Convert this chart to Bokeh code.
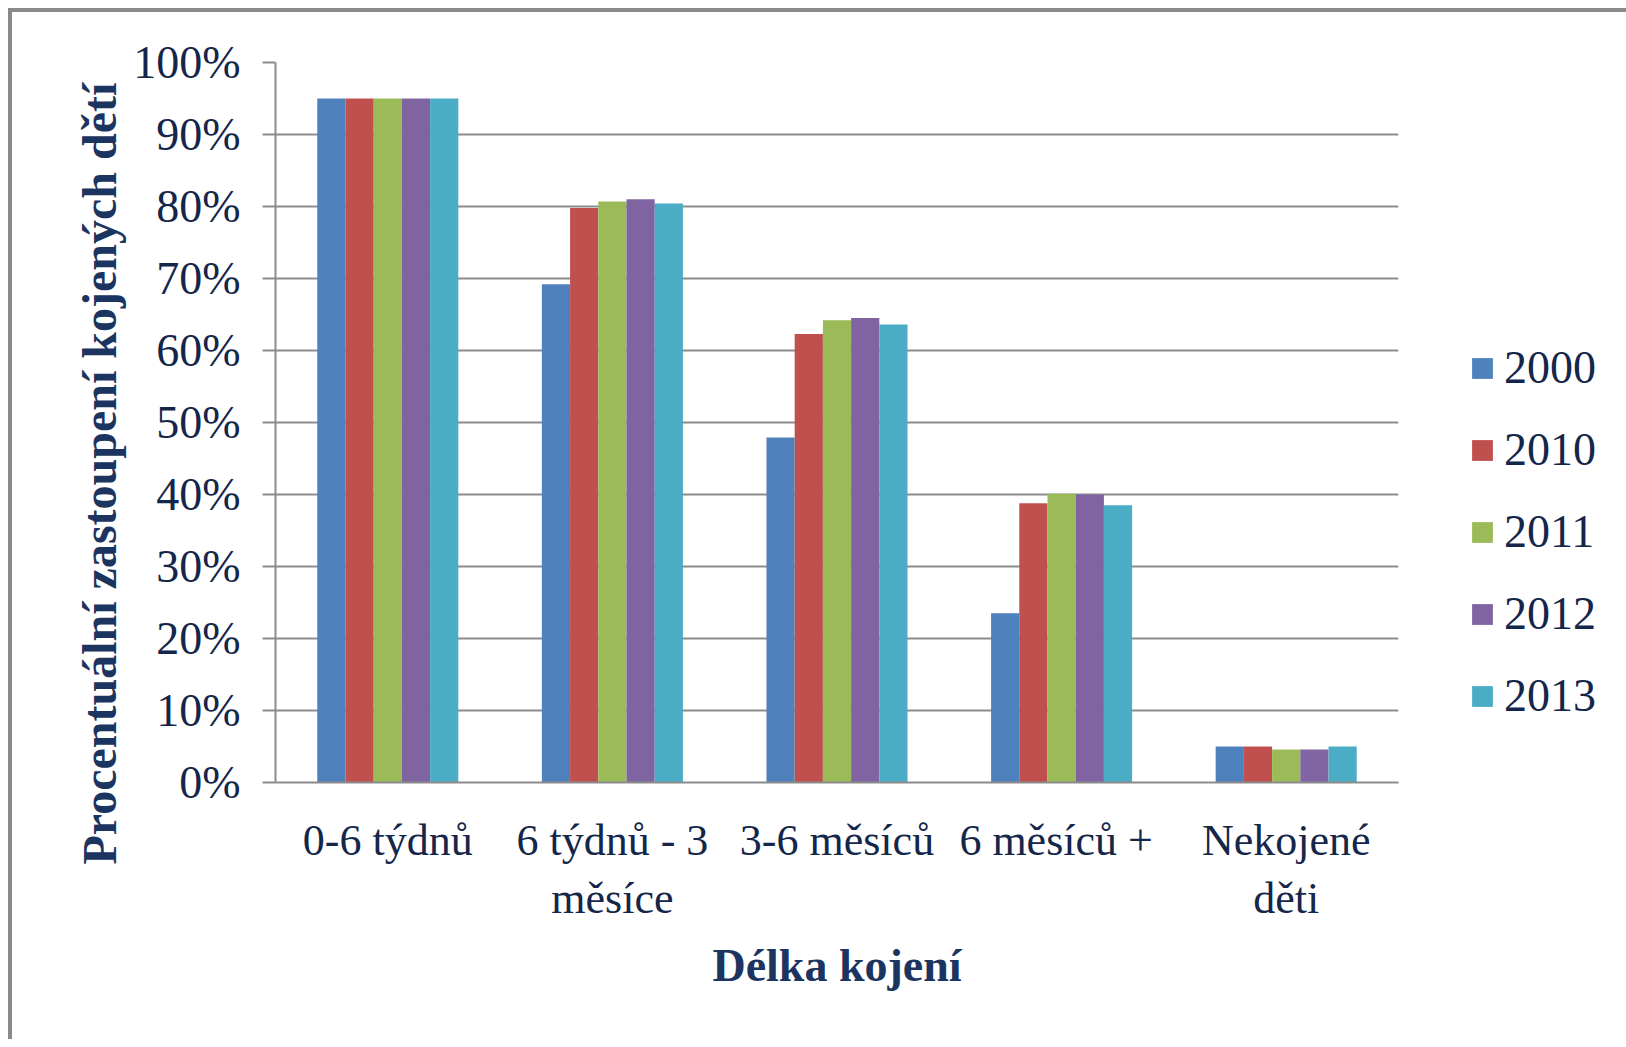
from bokeh.plotting import figure
from bokeh.models import (FactorRange, Range1d, FixedTicker, NumeralTickFormatter,
                          Legend, LegendItem, Title, ColumnDataSource)
from bokeh.transform import dodge
from bokeh.embed import file_html
from bokeh.resources import INLINE

categories = ["0-6 týdnů", "6 týdnů - 3\nměsíce", "3-6 měsíců", "6  měsíců +", "Nekojené\nděti"]
years = ["2000", "2010", "2011", "2012", "2013"]
v2000 = [0.95, 0.692, 0.479, 0.235, 0.050]
v2010 = [0.95, 0.798, 0.623, 0.388, 0.050]
v2011 = [0.95, 0.807, 0.642, 0.401, 0.046]
v2012 = [0.95, 0.810, 0.645, 0.400, 0.046]
v2013 = [0.95, 0.804, 0.636, 0.385, 0.050]
y_ticks = [0.0, 0.1, 0.2, 0.3, 0.4, 0.5, 0.6, 0.7, 0.8, 0.9, 1.0]
colors = ["#4F81BD", "#C0504D", "#9BBB59", "#8064A2", "#4BACC6"]

series = [v2000, v2010, v2011, v2012, v2013]
src = ColumnDataSource(dict(cat=categories, **{y: s for y, s in zip(years, series)}))

FONT = "Liberation Serif"
TXT = "#14264a"
GRID = "#8c8c8c"

p = figure(x_range=FactorRange(*categories, range_padding=0.0),
           y_range=Range1d(0, 1.0),
           frame_width=1123, frame_height=720,
           output_backend="svg", toolbar_location=None,
           min_border_left=263, min_border_right=0,
           min_border_top=50, min_border_bottom=257)
p.styles = {"border-left": "4px solid #8a8a8a", "border-top": "4px solid #8a8a8a",
            "margin-left": "8px", "margin-top": "8px"}
p.outline_line_color = None
p.background_fill_color = "white"
p.border_fill_color = "white"

bw = 0.1256
offsets = [-2 * bw, -bw, 0.0, bw, 2 * bw]
items = []
for yname, off, col in zip(years, offsets, colors):
    r = p.vbar(x=dodge("cat", off, range=p.x_range), top=yname, width=bw, bottom=0,
               source=src, fill_color=col, line_color=None)
    items.append(LegendItem(label=yname, renderers=[r]))

# grid
p.xgrid.grid_line_color = None
p.ygrid.grid_line_color = GRID
p.ygrid.grid_line_width = 2
p.ygrid.ticker = FixedTicker(ticks=y_ticks)

# y axis
p.yaxis.ticker = FixedTicker(ticks=y_ticks)
p.yaxis.formatter = NumeralTickFormatter(format="0%")
p.yaxis.axis_line_color = GRID
p.yaxis.axis_line_width = 2
p.yaxis.major_tick_line_color = GRID
p.yaxis.major_tick_line_width = 2
p.yaxis.major_tick_in = 0
p.yaxis.major_tick_out = 13
p.yaxis.minor_tick_line_color = None
p.yaxis.major_label_standoff = 22
p.yaxis.major_label_text_font = FONT
p.yaxis.major_label_text_font_size = "46px"
p.yaxis.major_label_text_color = TXT

# x axis
p.xaxis.axis_line_color = GRID
p.xaxis.axis_line_width = 2
p.xaxis.major_tick_line_color = None
p.xaxis.minor_tick_line_color = None
p.xaxis.major_label_standoff = 27
p.xaxis.major_label_text_font = FONT
p.xaxis.major_label_text_font_size = "44px"
p.xaxis.major_label_text_color = TXT
p.xaxis.major_label_orientation = "horizontal"
p.xaxis.axis_label = "Délka kojení"
p.xaxis.axis_label_text_font = FONT
p.xaxis.axis_label_text_font_style = "bold"
p.xaxis.axis_label_text_font_size = "46px"
p.xaxis.axis_label_text_color = "#1c3560"
p.xaxis.axis_label_standoff = 14

# y axis title as a side title, starting below the frame bottom as in the reference
ytitle = Title(text="Procentuální zastoupení kojených dětí", align="left", offset=-82,
               text_font=FONT, text_font_style="bold", text_font_size="48px",
               text_color="#1c3560", standoff=10)
p.add_layout(ytitle, "left")

legend = Legend(items=items, location=(71, 60))
legend.border_line_color = None
legend.background_fill_alpha = 0
legend.padding = 0
legend.margin = 0
legend.glyph_width = 26
legend.glyph_height = 26
legend.label_standoff = 9
legend.spacing = 29
legend.label_text_font = FONT
legend.label_text_font_size = "46px"
legend.label_text_color = TXT
p.add_layout(legend, "right")

open("out.html", "w").write(file_html(p, INLINE))
